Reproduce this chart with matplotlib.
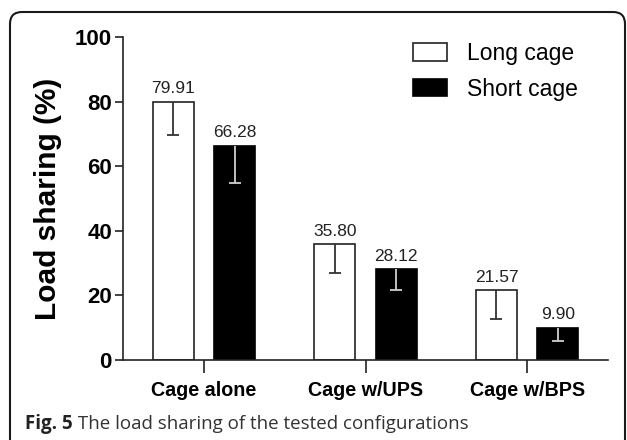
import numpy as np
import matplotlib
matplotlib.use("Agg")
import matplotlib.pyplot as plt
from matplotlib.patches import FancyBboxPatch
from matplotlib.transforms import IdentityTransform

categories = ["Cage alone", "Cage w/UPS", "Cage w/BPS"]
series_names = ["Long cage", "Short cage"]
long_vals = [79.91, 35.80, 21.57]
short_vals = [66.28, 28.12, 9.90]
long_err = [10.2, 8.8, 8.9]
short_err = [11.4, 6.4, 3.9]
yticks = [0, 20, 40, 60, 80, 100]

plt.rcParams['font.family'] = ['Liberation Sans', 'DejaVu Sans']

fig = plt.figure(figsize=(6.27, 4.40), dpi=100)
ax = fig.add_axes([123/627, 1-360/440, (608-123)/627, (360-37)/440])

x = np.arange(len(categories))
w = 0.255
off = 0.19

b1 = ax.bar(x - off, long_vals, w, color='white', edgecolor='#222222', linewidth=1.2,
            label=series_names[0], zorder=2)
b2 = ax.bar(x + off, short_vals, w, color='black', edgecolor='black', linewidth=1.2,
            label=series_names[1], zorder=2)

for xs, vals, errs, col in [(x - off, long_vals, long_err, '#333333'),
                            (x + off, short_vals, short_err, '#d0d0d0')]:
    eb = ax.errorbar(xs, vals, yerr=[errs, np.zeros(len(errs))], fmt='none',
                     ecolor=col, elinewidth=1.3, capsize=4.5, capthick=1.3, zorder=3)
    caps = eb[1]
    if len(caps) > 1:
        caps[1].set_visible(False)

for xs, vals in [(x - off, long_vals), (x + off, short_vals)]:
    for xi, v in zip(xs, vals):
        ax.annotate(f"{v:.2f}", xy=(xi, v), xytext=(0, 4), textcoords='offset points',
                    ha='center', va='bottom', fontsize=12.5, color='#222222')

ax.set_xlim(-0.5, 2.5)
ax.set_ylim(0, 100)
ax.set_yticks(yticks)
ax.set_yticklabels([str(t) for t in yticks], fontsize=16, fontweight='bold')
ax.set_xticks(x)
ax.set_xticklabels(categories, fontsize=14.2, fontweight='bold')
ax.tick_params(axis='y', length=6, width=1.2, pad=2, color='#222222')
ax.tick_params(axis='x', length=9.5, width=1.2, pad=5.5, color='#222222')
for s in ['top', 'right']:
    ax.spines[s].set_visible(False)
for s in ['left', 'bottom']:
    ax.spines[s].set_linewidth(1.2)
    ax.spines[s].set_color('#222222')

ax.set_ylabel("Load sharing (%)", fontsize=21.5, fontweight='bold', labelpad=9)

leg = ax.legend(loc='upper left', bbox_to_anchor=(413/627, 1-42/440),
                bbox_transform=fig.transFigure, frameon=False, fontsize=16.5,
                handlelength=1.5, handleheight=0.78, handletextpad=0.85,
                labelspacing=0.55, borderpad=0, borderaxespad=0)

frame = FancyBboxPatch((10, -40), 615, 468, boxstyle="round,pad=0,rounding_size=12",
                       transform=IdentityTransform(), facecolor='none',
                       edgecolor='#1a1a1a', linewidth=1.5)
fig.add_artist(frame)

t1 = fig.text(25/627, 1-424/440, "Fig. 5", fontsize=13.5, fontweight='bold',
              family=['Open Sans', 'DejaVu Sans'], color='#222222', va='center')
ax.annotate(" The load sharing of the tested configurations", xy=(1, 0.5), xycoords=t1,
            va='center', ha='left', fontsize=13.5, family=['Open Sans', 'DejaVu Sans'],
            color='#333333', annotation_clip=False)

fig.savefig("out.png", dpi=100)
